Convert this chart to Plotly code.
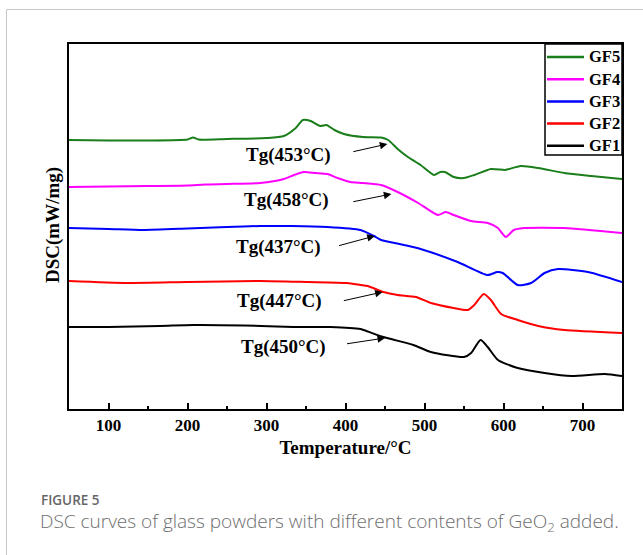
import plotly.graph_objects as go

# Temperature (°C) and heat-flow readings (mW/mg, curves stacked with offsets)
t_gf5 = [50, 100, 150, 200, 207, 214, 250, 300, 322, 337, 346, 356, 368, 376, 386, 398, 422, 445, 454, 466,
         479, 495, 512, 520, 526, 537, 550, 563, 584, 602, 607, 622, 644, 677, 711, 750]
v_gf5 = [2.69, 2.685, 2.685, 2.695, 2.715, 2.695, 2.70, 2.71, 2.73, 2.81, 2.89, 2.88, 2.83, 2.84, 2.79, 2.75,
         2.72, 2.715, 2.69, 2.60, 2.52, 2.44, 2.34, 2.37, 2.37, 2.32, 2.31, 2.34, 2.40, 2.39, 2.40, 2.43, 2.41,
         2.36, 2.33, 2.30]

t_gf4 = [50, 100, 150, 200, 222, 250, 292, 322, 335, 347, 362, 377, 390, 406, 422, 445, 466, 492, 517, 527,
         537, 559, 580, 593, 598, 603, 613, 626, 677, 750]
v_gf4 = [2.22, 2.225, 2.23, 2.235, 2.245, 2.25, 2.26, 2.30, 2.34, 2.37, 2.36, 2.35, 2.31, 2.27, 2.26, 2.24,
         2.17, 2.06, 1.94, 1.97, 1.94, 1.88, 1.86, 1.81, 1.76, 1.72, 1.79, 1.81, 1.81, 1.76]

t_gf3 = [50, 100, 144, 200, 250, 292, 332, 377, 419, 436, 445, 474, 495, 542, 580, 592, 599, 618, 635, 652,
         669, 707, 750]
v_gf3 = [1.81, 1.80, 1.79, 1.805, 1.82, 1.83, 1.83, 1.82, 1.79, 1.73, 1.69, 1.64, 1.60, 1.47, 1.34, 1.37,
         1.36, 1.24, 1.26, 1.36, 1.40, 1.37, 1.27]

t_gf2 = [50, 124, 200, 292, 352, 402, 419, 428, 448, 466, 489, 508, 537, 555, 563, 575, 584, 597, 618, 644,
         677, 750]
v_gf2 = [1.28, 1.26, 1.27, 1.28, 1.27, 1.26, 1.24, 1.23, 1.17, 1.14, 1.12, 1.06, 1.01, 0.99, 1.04, 1.15,
         1.09, 0.95, 0.89, 0.83, 0.79, 0.76]

t_gf1 = [50, 100, 165, 207, 272, 334, 381, 419, 423, 448, 486, 508, 550, 559, 571, 580, 593, 618, 652, 686,
         728, 750]
v_gf1 = [0.82, 0.82, 0.83, 0.84, 0.835, 0.82, 0.82, 0.80, 0.79, 0.72, 0.64, 0.57, 0.52, 0.56, 0.69, 0.62,
         0.49, 0.41, 0.36, 0.33, 0.35, 0.33]

series_names = ["GF5", "GF4", "GF3", "GF2", "GF1"]
series_colors = ["#1a7f1a", "#ff00ff", "#0000ff", "#ff0000", "#000000"]
series_t = [t_gf5, t_gf4, t_gf3, t_gf2, t_gf1]
series_v = [v_gf5, v_gf4, v_gf3, v_gf2, v_gf1]

# Glass transition temperatures and where each label / arrow tail sits
tg_values = [453, 458, 437, 447, 450]
tg_head_v = [2.65, 2.15, 1.73, 1.17, 0.71]
tg_tail_t = [408, 408, 390, 396, 400]
tg_tail_v = [2.57, 2.07, 1.63, 1.08, 0.65]
tg_text_t = [328, 325, 315, 316, 321]
tg_text_v = [2.54, 2.09, 1.62, 1.08, 0.62]

SERIF = "Liberation Serif"
W, H = 643, 555
ML, MR, MT, MB = 69, 21, 44, 146
PW, PH = W - ML - MR, H - MT - MB


def px_x(p):
    return (p - ML) / PW


def px_y(p):
    return (H - MB - p) / PH


fig = go.Figure()
for name, color, t, v in zip(series_names, series_colors, series_t, series_v):
    fig.add_trace(go.Scatter(
        x=t, y=v, name=name, mode="lines", showlegend=False,
        line=dict(color=color, width=2, shape="spline", smoothing=0.6),
    ))

for tg, hv, tt, tv, lt, lv in zip(tg_values, tg_head_v, tg_tail_t, tg_tail_v, tg_text_t, tg_text_v):
    fig.add_annotation(
        x=tg, y=hv, ax=tt, ay=tv, xref="x", yref="y", axref="x", ayref="y",
        showarrow=True, arrowhead=2, arrowsize=1.5, arrowwidth=1, arrowcolor="#000",
        text="",
    )
    fig.add_annotation(
        x=lt, y=lv, xref="x", yref="y", showarrow=False,
        text=f"Tg({tg}°C)",
        font=dict(family=SERIF, size=19, color="#000", weight="bold"),
    )

# Legend box in the upper-right corner of the plot
LEG_LEFT, LEG_BOTTOM = 545, 155
fig.add_shape(type="rect", xref="paper", yref="paper",
              x0=px_x(LEG_LEFT), x1=1, y0=px_y(LEG_BOTTOM), y1=1,
              line=dict(color="#000", width=1.5), fillcolor="white", layer="above")
for i, (name, color) in enumerate(zip(series_names, series_colors)):
    row_y = px_y(57 + i * 22.2)
    fig.add_shape(type="line", xref="paper", yref="paper",
                  x0=px_x(547), x1=px_x(584), y0=row_y, y1=row_y,
                  line=dict(color=color, width=2.5), layer="above")
    fig.add_annotation(x=px_x(587), y=row_y, xref="paper", yref="paper", showarrow=False,
                       xanchor="left", yanchor="middle", text=name,
                       font=dict(family=SERIF, size=16.5, color="#000", weight="bold"))

# Y-axis title
fig.add_annotation(
    x=px_x(40), y=px_y(225), xref="paper", yref="paper", showarrow=False,
    text="DSC(mW/mg)", textangle=-90,
    font=dict(family=SERIF, size=19, color="#000", weight="bold"),
)

# Caption below the chart
fig.add_annotation(
    x=px_x(39), y=px_y(500), xref="paper", yref="paper", showarrow=False,
    xanchor="left", yanchor="middle", text="FIGURE 5",
    font=dict(family="Open Sans", size=13.5, color="#666666", weight=600),
)
fig.add_annotation(
    x=px_x(38), y=px_y(522), xref="paper", yref="paper", showarrow=False,
    xanchor="left", yanchor="middle",
    text="DSC curves of glass powders with different contents of GeO<sub>2</sub> added.",
    font=dict(family="Open Sans", size=19, color="#6e6e6e", weight=300),
)

# Thin page frame
fig.add_shape(type="line", xref="paper", yref="paper",
              x0=px_x(6.5), x1=px_x(643), y0=px_y(9.5), y1=px_y(9.5),
              line=dict(color="#c8c8c8", width=1))
fig.add_shape(type="line", xref="paper", yref="paper",
              x0=px_x(6.5), x1=px_x(6.5), y0=px_y(9.5), y1=px_y(555),
              line=dict(color="#c8c8c8", width=1))

fig.update_layout(
    width=W, height=H,
    margin=dict(l=ML, r=MR, t=MT, b=MB),
    paper_bgcolor="white", plot_bgcolor="white",
    showlegend=False,
    xaxis=dict(
        range=[50, 750], tickvals=[100, 200, 300, 400, 500, 600, 700],
        ticks="inside", ticklen=6, tickwidth=1.5, tickcolor="#000",
        minor=dict(ticks="inside", ticklen=3, tickwidth=1.5, tickcolor="#000", dtick=50, tick0=50),
        showline=True, linecolor="#000", linewidth=2, mirror=True,
        showgrid=False, zeroline=False,
        tickfont=dict(family=SERIF, size=17, color="#000", weight="bold"),
        title=dict(text="Temperature/°C", standoff=6,
                   font=dict(family=SERIF, size=19, color="#000", weight="bold")),
    ),
    yaxis=dict(
        range=[0, 3.65], showticklabels=False, ticks="",
        showline=True, linecolor="#000", linewidth=2, mirror=True,
        showgrid=False, zeroline=False,
    ),
)

fig.write_html("out.html")
